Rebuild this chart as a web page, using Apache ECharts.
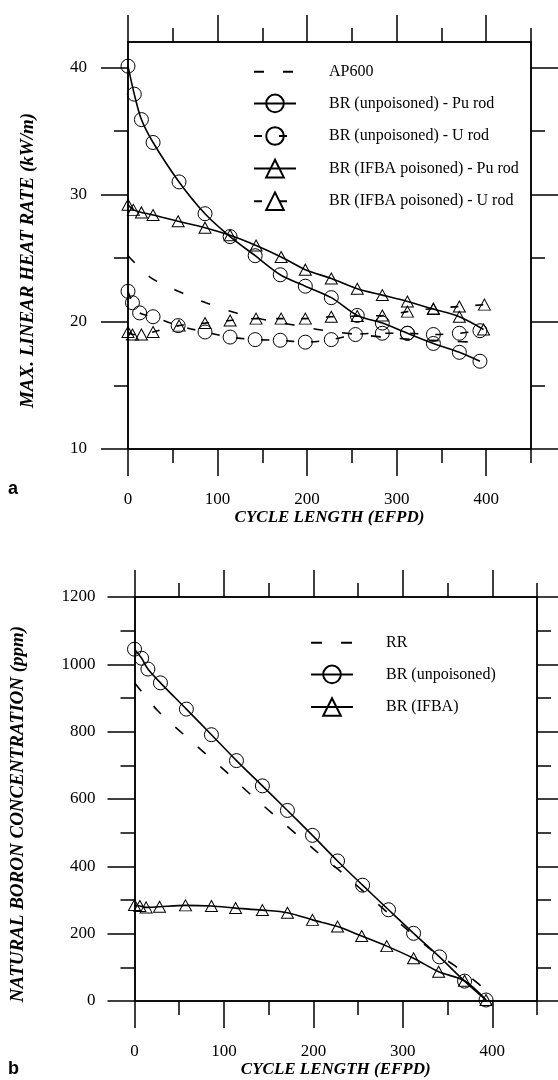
<!DOCTYPE html>
<html>
<head>
<meta charset="utf-8">
<script src="https://cdn.jsdelivr.net/npm/echarts@6/dist/echarts.min.js"></script>
<style>
  html, body { margin: 0; padding: 0; background: #fff; }
  #chart { width: 558px; height: 1080px; }
</style>
</head>
<body>
<div id="chart"></div>
<script>
// panel a - max. linear heat rate (kW/m) vs cycle length (EFPD)
const ap600X = [0, 25, 56, 87, 118, 150, 185, 216, 250, 285, 320, 355, 385];
const ap600Y = [25.2, 23.5, 22.4, 21.5, 20.75, 20.2, 19.75, 19.35, 19.05, 18.8, 18.6, 18.5, 18.4];
const brPuX = [0, 7, 15, 28, 57, 86, 114, 142, 170, 198, 227, 256, 284, 312, 341, 370, 393];
const brPuY = [40.1, 37.9, 35.9, 34.1, 31.0, 28.5, 26.7, 25.2, 23.7, 22.8, 21.9, 20.5, 19.9, 19.1, 18.3, 17.6, 16.9];
const brUX = [0, 5, 13, 28, 56, 86, 114, 142, 170, 198, 227, 254, 284, 312, 341, 370, 393];
const brUY = [22.4, 21.5, 20.7, 20.4, 19.7, 19.2, 18.8, 18.6, 18.55, 18.4, 18.6, 19.0, 19.1, 19.1, 19.0, 19.1, 19.3];
const ifbaPuX = [0, 6, 15, 28, 56, 86, 114, 143, 171, 198, 227, 256, 284, 312, 341, 370, 397];
const ifbaPuY = [29.2, 28.8, 28.6, 28.4, 27.9, 27.4, 26.8, 26.0, 25.1, 24.1, 23.4, 22.6, 22.1, 21.6, 21.0, 20.4, 19.4];
const ifbaUX = [0, 5, 15, 28, 57, 86, 114, 143, 171, 198, 227, 256, 284, 312, 341, 370, 398];
const ifbaUY = [19.2, 19.0, 19.0, 19.2, 19.7, 19.9, 20.1, 20.25, 20.25, 20.25, 20.4, 20.45, 20.5, 20.8, 21.05, 21.2, 21.35];

// panel b - natural boron concentration (ppm) vs cycle length (EFPD)
const rrX = [0, 26, 51, 77, 102, 127, 203, 229, 331, 358, 385, 398];
const rrY = [945, 862, 801, 740, 682, 620, 445, 388, 153, 105, 50, 12];
const brX = [0, 8, 15, 29, 58, 86, 114, 143, 171, 199, 227, 255, 284, 312, 341, 369, 393];
const brY = [1045, 1018, 986, 945, 867, 791, 714, 639, 566, 492, 416, 344, 271, 201, 131, 59, 3];
const ifbaX = [0, 6, 13, 28, 57, 86, 113, 143, 171, 199, 227, 254, 282, 312, 340, 369, 393];
const ifbaY = [285, 282, 278, 280, 284, 282, 276, 270, 262, 241, 221, 193, 163, 127, 87, 60, 3];

// ticks
const xMajor = [0, 100, 200, 300, 400];
const xMinor = [50, 150, 250, 350, 450];
const yMajorA = [10, 20, 30, 40];
const yMinorA = [15, 25, 35];
const yMajorB = [0, 200, 400, 600, 800, 1000, 1200];
const yMinorB = [100, 300, 500, 700, 900, 1100];

const ink = '#000';
const axisLineStyle = { color: ink, width: 1.5 };
const tickFont = { fontFamily: 'Liberation Serif', fontSize: 17, color: ink, formatter: v => String(v) };
const nameFont = { fontFamily: 'Liberation Serif', fontSize: 17, fontWeight: 'bold', fontStyle: 'italic', color: ink };

function xAxesFor(g, name) {
    const base = {
        gridIndex: g, type: 'value', min: 0, max: 450,
        splitLine: { show: false },
        axisLine: { onZero: false, lineStyle: axisLineStyle }
    };
    return [
        {
            ...base, position: 'bottom',
            name: name, nameLocation: 'middle', nameGap: 60, nameTextStyle: nameFont,
            axisTick: { customValues: xMajor, length: 27, lineStyle: axisLineStyle },
            axisLabel: { customValues: xMajor, margin: 42, ...tickFont }
        },
        { ...base, position: 'bottom', axisTick: { customValues: xMinor, length: 14, lineStyle: axisLineStyle }, axisLabel: { show: false } },
        { ...base, position: 'top', axisTick: { customValues: xMajor, length: 27, lineStyle: axisLineStyle }, axisLabel: { show: false } },
        { ...base, position: 'top', axisTick: { customValues: xMinor, length: 14, lineStyle: axisLineStyle }, axisLabel: { show: false } }
    ];
}

function yAxesFor(g, min, max, major, minor, name, nameGap, margin) {
    const base = {
        gridIndex: g, type: 'value', min: min, max: max,
        splitLine: { show: false },
        axisLine: { onZero: false, lineStyle: axisLineStyle }
    };
    return [
        {
            ...base, position: 'left',
            name: name, nameLocation: 'middle', nameGap: nameGap,
            nameTextStyle: { ...nameFont, fontSize: 19, padding: [0, 30, 0, 0] },
            axisTick: { customValues: major, length: 27, lineStyle: axisLineStyle },
            axisLabel: { customValues: major, margin: margin, ...tickFont }
        },
        { ...base, position: 'left', axisTick: { customValues: minor, length: 14, lineStyle: axisLineStyle }, axisLabel: { show: false } },
        { ...base, position: 'right', axisTick: { customValues: major, length: 27, lineStyle: axisLineStyle }, axisLabel: { show: false } },
        { ...base, position: 'right', axisTick: { customValues: minor, length: 14, lineStyle: axisLineStyle }, axisLabel: { show: false } }
    ];
}

function pairs(xs, ys) {
    return xs.map((x, i) => [x, ys[i]]);
}

// one curve, optionally with hollow markers; dash = null for a solid line
function curve(name, xs, ys, axis, symbol, size, dash) {
    return {
        name: name,
        type: 'line',
        xAxisIndex: axis,
        yAxisIndex: axis,
        data: pairs(xs, ys),
        smooth: 0.3,
        clip: false,
        symbol: symbol,
        symbolSize: size,
        showSymbol: symbol !== 'none',
        lineStyle: { color: ink, width: 1.6, type: dash || 'solid' },
        itemStyle: { color: 'transparent', borderColor: ink, borderWidth: symbol === 'none' ? 0 : 1 },
        emphasis: { disabled: true },
        animation: false
    };
}

const legendBase = {
    orient: 'vertical',
    padding: 0,
    itemWidth: 42,
    itemHeight: 22,
    itemGap: 13,
    selectedMode: false,
    textStyle: { fontFamily: 'Liberation Serif', fontSize: 16, color: ink, padding: [0, 0, 0, 28] }
};

const chart = echarts.init(document.getElementById('chart'));
chart.setOption({
    backgroundColor: '#fff',
    animation: false,
    grid: [
        { left: 128, top: 42, width: 403, height: 407 },
        { left: 134.5, top: 597, width: 402.5, height: 404 }
    ],
    xAxis: [
        ...xAxesFor(0, 'CYCLE LENGTH (EFPD)'),
        ...xAxesFor(1, 'CYCLE LENGTH (EFPD)')
    ],
    yAxis: [
        ...yAxesFor(0, 10, 42, yMajorA, yMinorA, 'MAX. LINEAR HEAT RATE (kW/m)', 90, 41),
        ...yAxesFor(1, 0, 1200, yMajorB, yMinorB, 'NATURAL BORON CONCENTRATION (ppm)', 107, 39)
    ],
    legend: [
        {
            ...legendBase, left: 253, top: 63,
            data: ['AP600', 'BR (unpoisoned) - Pu rod', 'BR (unpoisoned) - U rod', 'BR (IFBA poisoned) - Pu rod', 'BR (IFBA poisoned) - U rod']
        },
        {
            ...legendBase, left: 310, top: 634,
            data: ['RR', 'BR (unpoisoned)', 'BR (IFBA)']
        }
    ],
    series: [
        curve('AP600', ap600X, ap600Y, 0, 'none', 0, [10, 19]),
        curve('BR (unpoisoned) - Pu rod', brPuX, brPuY, 0, 'circle', 14, null),
        curve('BR (unpoisoned) - U rod', brUX, brUY, 0, 'circle', 14, [8, 17]),
        curve('BR (IFBA poisoned) - Pu rod', ifbaPuX, ifbaPuY, 0, 'triangle', [12, 11], null),
        curve('BR (IFBA poisoned) - U rod', ifbaUX, ifbaUY, 0, 'triangle', [12, 11], [8, 17]),
        curve('RR', rrX, rrY, 4, 'none', 0, [11, 19]),
        curve('BR (unpoisoned)', brX, brY, 4, 'circle', 14, null),
        curve('BR (IFBA)', ifbaX, ifbaY, 4, 'triangle', [12, 11], null)
    ],
    graphic: [
        { type: 'text', left: 8, top: 480, style: { text: 'a', font: 'bold 18px "Liberation Sans"', fill: ink } },
        { type: 'text', left: 8, top: 1060, style: { text: 'b', font: 'bold 18px "Liberation Sans"', fill: ink } }
    ]
});
</script>
</body>
</html>
